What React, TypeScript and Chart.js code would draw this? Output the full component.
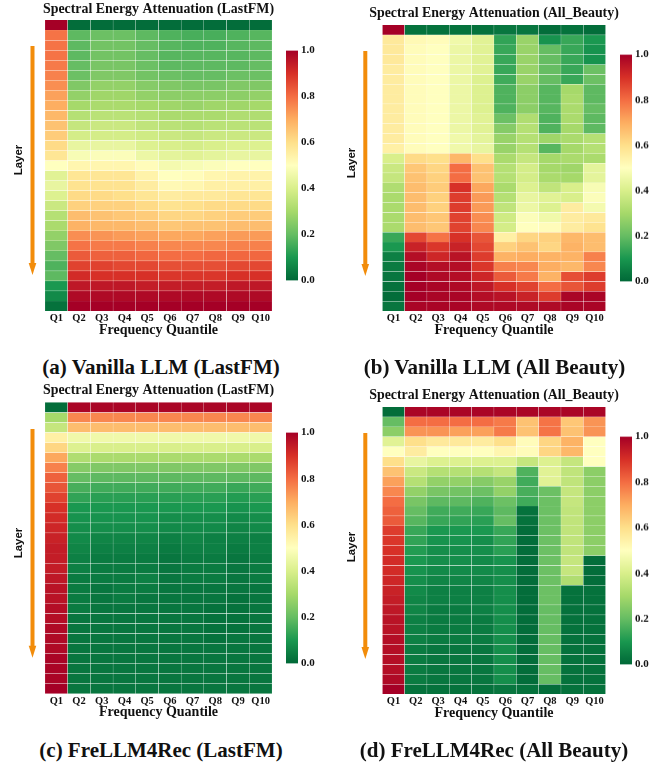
import React, { useEffect, useRef } from "react";
import { Chart, registerables } from "chart.js";

Chart.register(...registerables);

const quantiles = ["Q1", "Q2", "Q3", "Q4", "Q5", "Q6", "Q7", "Q8", "Q9", "Q10"];
const barTicks = [0, 0.2, 0.4, 0.6, 0.8, 1.0];
const rdYlGn = ["#006837", "#1a9850", "#66bd63", "#a6d96a", "#d9ef8b", "#ffffbf", "#fee08b", "#fdae61", "#f46d43", "#d73027", "#a50026"];

const vanillaLastFM = [
  [1, .01, .01, .01, .01, .01, .01, .01, .01, .01],
  [.79, .19, .21, .21, .19, .17, .16, .16, .17, .18],
  [.79, .19, .22, .22, .20, .18, .17, .17, .18, .19],
  [.79, .19, .22, .22, .20, .18, .18, .18, .18, .19],
  [.78, .20, .23, .23, .21, .19, .19, .19, .19, .20],
  [.77, .21, .24, .24, .22, .21, .20, .20, .21, .21],
  [.75, .24, .27, .27, .25, .24, .23, .23, .24, .24],
  [.72, .27, .29, .29, .27, .26, .26, .26, .26, .27],
  [.70, .30, .31, .31, .30, .29, .28, .29, .29, .30],
  [.68, .33, .34, .34, .33, .31, .31, .31, .32, .32],
  [.66, .36, .37, .37, .35, .34, .33, .34, .34, .34],
  [.64, .39, .39, .39, .38, .37, .36, .37, .37, .37],
  [.61, .44, .44, .44, .41, .40, .39, .40, .41, .41],
  [.58, .48, .49, .49, .45, .43, .42, .43, .44, .44],
  [.50, .53, .53, .53, .51, .47, .48, .49, .50, .50],
  [.42, .58, .58, .58, .54, .50, .51, .53, .54, .54],
  [.44, .59, .59, .59, .56, .52, .53, .55, .55, .55],
  [.41, .61, .61, .60, .58, .56, .57, .57, .58, .58],
  [.37, .63, .63, .63, .61, .59, .60, .61, .61, .61],
  [.33, .67, .66, .65, .64, .62, .62, .63, .64, .64],
  [.31, .69, .68, .68, .67, .65, .66, .66, .67, .67],
  [.27, .75, .74, .73, .72, .71, .71, .72, .73, .73],
  [.24, .79, .78, .78, .77, .76, .76, .76, .77, .77],
  [.20, .83, .82, .82, .81, .80, .80, .81, .81, .81],
  [.17, .87, .87, .86, .86, .85, .85, .85, .86, .86],
  [.19, .91, .90, .90, .90, .89, .89, .89, .90, .90],
  [.10, .95, .95, .95, .94, .94, .94, .94, .95, .95],
  [.07, .98, .98, .98, .98, .98, .98, .98, .98, .98],
  [.02, 1, 1, 1, 1, 1, 1, 1, 1, 1],
];

const vanillaBeauty = [
  [1, .02, .02, .02, .02, .03, .03, .01, .02, .01],
  [.57, .52, .51, .46, .42, .13, .28, .09, .14, .10],
  [.57, .51, .50, .45, .42, .14, .28, .20, .14, .09],
  [.57, .51, .50, .45, .42, .14, .28, .20, .14, .09],
  [.56, .51, .50, .45, .42, .14, .28, .20, .14, .21],
  [.56, .51, .50, .45, .41, .15, .28, .20, .14, .21],
  [.56, .51, .50, .45, .41, .17, .26, .18, .30, .19],
  [.56, .51, .50, .45, .41, .17, .26, .18, .31, .19],
  [.56, .51, .50, .45, .41, .17, .26, .18, .31, .20],
  [.56, .51, .50, .45, .42, .21, .32, .17, .31, .19],
  [.56, .51, .50, .45, .42, .25, .33, .17, .30, .19],
  [.56, .51, .50, .46, .43, .28, .33, .29, .31, .33],
  [.55, .51, .50, .46, .44, .28, .33, .18, .30, .33],
  [.40, .61, .60, .68, .60, .31, .36, .30, .31, .31],
  [.37, .65, .62, .80, .66, .33, .39, .30, .29, .43],
  [.36, .66, .63, .80, .66, .33, .39, .31, .30, .43],
  [.32, .67, .64, .90, .71, .31, .41, .35, .40, .48],
  [.31, .67, .63, .88, .73, .33, .44, .42, .40, .49],
  [.31, .67, .63, .88, .73, .35, .45, .41, .56, .47],
  [.31, .67, .65, .87, .75, .38, .49, .46, .56, .57],
  [.31, .67, .65, .87, .76, .39, .50, .51, .56, .59],
  [.14, .86, .79, .90, .84, .55, .62, .63, .68, .67],
  [.10, .93, .89, .93, .86, .63, .66, .62, .69, .67],
  [.05, .97, .92, .96, .88, .69, .70, .69, .69, .77],
  [.04, .99, .97, .97, .89, .77, .76, .70, .68, .76],
  [.03, 1, .98, .97, .92, .83, .78, .69, .85, .88],
  [.02, 1, .99, .98, .95, .90, .87, .80, .84, .88],
  [.01, 1, .99, .99, .97, .96, .93, .88, .99, .99],
  [.03, .99, .99, .99, .98, .98, .98, .98, .99, .99],
];

const freLastFM = [
  [.01, .99, .99, .99, .99, .99, .99, .99, .99, .99],
  [.30, .76, .76, .76, .76, .76, .76, .76, .76, .76],
  [.36, .67, .67, .67, .67, .67, .67, .67, .67, .67],
  [.55, .46, .46, .46, .46, .46, .46, .46, .46, .46],
  [.62, .41, .40, .40, .40, .40, .40, .40, .40, .40],
  [.71, .32, .31, .31, .31, .31, .31, .31, .31, .31],
  [.77, .25, .24, .24, .24, .24, .24, .24, .24, .24],
  [.82, .20, .19, .19, .19, .19, .19, .19, .19, .19],
  [.84, .16, .15, .15, .15, .15, .15, .15, .14, .15],
  [.87, .13, .12, .12, .12, .12, .12, .12, .11, .12],
  [.90, .10, .10, .10, .10, .10, .10, .10, .09, .10],
  [.91, .09, .09, .09, .09, .08, .08, .08, .07, .08],
  [.92, .08, .08, .08, .08, .07, .07, .07, .06, .07],
  [.93, .07, .06, .06, .06, .05, .06, .05, .05, .05],
  [.94, .06, .05, .05, .05, .04, .05, .05, .04, .05],
  [.94, .05, .04, .04, .04, .03, .04, .04, .03, .04],
  [.94, .05, .04, .04, .04, .03, .04, .04, .03, .04],
  [.95, .04, .04, .04, .05, .03, .04, .04, .03, .04],
  [.96, .04, .03, .04, .04, .03, .03, .03, .03, .03],
  [.96, .04, .03, .04, .03, .03, .03, .03, .02, .03],
  [.97, .04, .03, .03, .03, .03, .03, .02, .02, .03],
  [.97, .03, .03, .03, .03, .03, .03, .02, .02, .03],
  [.98, .03, .03, .03, .03, .03, .03, .02, .02, .03],
  [.98, .03, .03, .03, .03, .03, .03, .02, .03, .03],
  [.98, .03, .03, .03, .03, .03, .03, .03, .03, .03],
  [.99, .03, .03, .03, .03, .03, .03, .03, .03, .03],
  [.99, .03, .03, .03, .03, .03, .03, .03, .03, .03],
  [.99, .03, .03, .03, .03, .03, .03, .03, .03, .03],
  [1, .03, .03, .03, .03, .03, .03, .03, .03, .03],
];

const freBeauty = [
  [.01, .99, .99, .99, .99, .99, .99, .99, .99, .99],
  [.20, .80, .80, .80, .80, .78, .66, .79, .65, .74],
  [.26, .74, .74, .72, .72, .78, .66, .79, .66, .74],
  [.42, .60, .57, .57, .56, .60, .51, .62, .69, .50],
  [.50, .56, .50, .50, .50, .53, .51, .62, .68, .50],
  [.60, .44, .41, .41, .41, .41, .36, .41, .36, .50],
  [.66, .37, .33, .33, .33, .36, .17, .42, .35, .26],
  [.72, .33, .27, .27, .25, .28, .15, .42, .35, .26],
  [.76, .27, .23, .22, .21, .27, .16, .21, .36, .26],
  [.80, .23, .19, .19, .17, .21, .15, .21, .36, .26],
  [.82, .20, .15, .15, .14, .19, .02, .21, .35, .26],
  [.83, .18, .14, .13, .12, .20, .02, .21, .35, .26],
  [.88, .14, .10, .10, .10, .14, .01, .21, .35, .26],
  [.89, .13, .09, .09, .08, .13, .01, .21, .35, .26],
  [.90, .11, .08, .08, .08, .12, .01, .21, .35, .26],
  [.91, .10, .08, .08, .07, .09, .01, .21, .36, .01],
  [.91, .09, .07, .07, .07, .08, .01, .21, .36, .01],
  [.92, .08, .06, .06, .06, .08, .01, .21, .32, .01],
  [.93, .07, .05, .05, .05, .08, .01, .21, .02, .02],
  [.94, .06, .05, .05, .05, .08, .01, .21, .02, .02],
  [.95, .06, .04, .04, .05, .08, .01, .20, .02, .02],
  [.96, .05, .04, .04, .04, .08, .01, .20, .02, .02],
  [.96, .05, .04, .04, .04, .08, .01, .20, .02, .02],
  [.97, .05, .04, .04, .04, .08, .01, .20, .02, .02],
  [.97, .04, .03, .03, .03, .08, .01, .20, .02, .02],
  [.97, .04, .03, .03, .03, .08, .01, .20, .02, .02],
  [.97, .04, .03, .03, .03, .08, .01, .20, .02, .02],
  [.98, .04, .03, .03, .03, .08, .01, .20, .02, .02],
  [1, .02, .02, .02, .02, .03, .02, .01, .02, .02],
];

const heatFont = "'Liberation Serif', serif";
const ink = "#111111";
const orange = "#f28c0a";

function mapColor(v: number) {
  const t = Math.max(0, Math.min(1, v)) * 10;
  const i = Math.min(9, Math.floor(t));
  const f = t - i;
  const hex = (s: string, p: number) => parseInt(s.slice(p, p + 2), 16);
  const ch = (p: number) => Math.round(hex(rdYlGn[i], p) * (1 - f) + hex(rdYlGn[i + 1], p) * f);
  return `rgb(${ch(1)},${ch(3)},${ch(5)})`;
}

type PanelDef = {
  title: string; caption: string; values: number[][];
  top: number; plotLeft: number; plotRight: number; plotTop: number; plotBottom: number;
  titleY: number; arrowX: number; layerX: number; layerY: number; arrowTop: number; arrowBottom: number;
  barLeft: number; barTop: number; barBottom: number; captionY: number; captionX: number;
};

const panels: PanelDef[] = [
  { title: "Spectral Energy Attenuation (LastFM)", caption: "(a) Vanilla LLM (LastFM)", values: vanillaLastFM, top: 0,
    plotLeft: 45, plotRight: 272, plotTop: 20, plotBottom: 311, titleY: 9, arrowX: 32.5, layerX: 19, layerY: 160,
    arrowTop: 46, arrowBottom: 275, barLeft: 286, barTop: 48.7, barBottom: 281.7, captionX: 161, captionY: 367 },
  { title: "Spectral Energy Attenuation (All_Beauty)", caption: "(b) Vanilla LLM (All Beauty)", values: vanillaBeauty, top: 0,
    plotLeft: 382.3, plotRight: 605.7, plotTop: 25, plotBottom: 311, titleY: 13.5, arrowX: 365.3, layerX: 352, layerY: 163,
    arrowTop: 51, arrowBottom: 276, barLeft: 619.5, barTop: 53, barBottom: 282.7, captionX: 494.5, captionY: 367 },
  { title: "Spectral Energy Attenuation (LastFM)", caption: "(c) FreLLM4Rec (LastFM)", values: freLastFM, top: 380,
    plotLeft: 45, plotRight: 272, plotTop: 402.3, plotBottom: 693.7, titleY: 390.7, arrowX: 32.5, layerX: 19, layerY: 543,
    arrowTop: 429, arrowBottom: 657.7, barLeft: 286, barTop: 431, barBottom: 665, captionX: 161, captionY: 750 },
  { title: "Spectral Energy Attenuation (All_Beauty)", caption: "(d) FreLLM4Rec (All Beauty)", values: freBeauty, top: 380,
    plotLeft: 382.3, plotRight: 605.7, plotTop: 407, plotBottom: 694, titleY: 395.7, arrowX: 365.3, layerX: 352, layerY: 547,
    arrowTop: 433, arrowBottom: 659, barLeft: 619.5, barTop: 435, barBottom: 665.7, captionX: 494, captionY: 750 },
];

const CANVAS_H = 350;
const AXIS_H = 27.5;

function Heatmap({ p }: { p: PanelDef }) {
  const ref = useRef<HTMLCanvasElement | null>(null);
  const canvasLeft = p.plotLeft < 335 ? 0 : 335;
  const canvasW = Math.round(2 * ((p.plotLeft + p.plotRight) / 2 - canvasLeft));
  useEffect(() => {
    const titleSize = 13.9;
    const titleH = titleSize * 1.2;
    const plotTop = p.plotTop - p.top;
    const padTop = Math.max(0, p.titleY - p.top - titleH / 2);
    const decor = {
      id: "layerArrow",
      afterDraw(chart: Chart) {
        const c = chart.ctx;
        const x = p.arrowX - canvasLeft;
        const t = p.arrowTop - p.top;
        const b = p.arrowBottom - p.top;
        c.save();
        c.fillStyle = orange;
        c.fillRect(x - 2, t, 4, b - t - 10);
        c.beginPath();
        c.moveTo(x - 3.8, b - 12);
        c.lineTo(x + 3.8, b - 12);
        c.lineTo(x, b);
        c.closePath();
        c.fill();
        c.translate(p.layerX - canvasLeft, p.layerY - p.top);
        c.rotate(-Math.PI / 2);
        c.font = "bold 11.5px 'Liberation Sans', sans-serif";
        c.fillStyle = ink;
        c.textAlign = "center";
        c.textBaseline = "middle";
        c.fillText("Layer", 0, 0);
        c.restore();
      },
    };
    const chart = new Chart(ref.current as HTMLCanvasElement, {
      type: "bar",
      data: {
        labels: quantiles,
        datasets: p.values.map((row, r) => ({
          label: `Layer ${r}`,
          data: row.map((v, q) => ({ x: quantiles[q], y: [r, r + 1], v })) as any,
          backgroundColor: (ctx: any) => mapColor(ctx.raw ? ctx.raw.v : 0),
          borderColor: "#ffffff",
          borderWidth: 0.4,
          borderSkipped: false,
          barPercentage: 1,
          categoryPercentage: 1,
        })),
      },
      plugins: [decor],
      options: {
        responsive: false,
        animation: false,
        events: [],
        layout: { padding: { left: 0, top: 0, right: 0, bottom: CANVAS_H - (p.plotBottom - p.top) - AXIS_H } },
        plugins: {
          legend: { display: false },
          tooltip: { enabled: false },
          title: {
            display: true, text: p.title, color: ink,
            font: { family: heatFont, size: titleSize, weight: "bold", lineHeight: 1.2 },
            padding: { top: padTop, bottom: plotTop - padTop - titleH },
          },
        },
        scales: {
          x: {
            type: "category", stacked: true,
            grid: { display: false, drawTicks: false }, border: { display: false },
            ticks: { color: ink, padding: 1, maxRotation: 0, autoSkip: false, font: { family: heatFont, size: 10.5, weight: "bold" } },
            title: { display: true, text: "Frequency Quantile", color: ink, padding: 0, font: { family: heatFont, size: 14, weight: "bold", lineHeight: 1.2 } },
            afterFit: (s: any) => { s.height = AXIS_H; },
          },
          y: {
            type: "linear", reverse: true, min: 0, max: p.values.length,
            grid: { display: false }, border: { display: false }, ticks: { display: false },
            afterFit: (s: any) => { s.width = p.plotLeft - canvasLeft; },
          },
          spacer: {
            type: "linear", position: "right",
            grid: { display: false }, border: { display: false }, ticks: { display: false },
            afterFit: (s: any) => { s.width = canvasW - (p.plotRight - canvasLeft); },
          },
        },
      } as any,
    });
    return () => chart.destroy();
  }, [p]);
  return (
    <canvas ref={ref} width={canvasW} height={CANVAS_H}
      style={{ position: "absolute", left: canvasLeft, top: p.top, width: canvasW, height: CANVAS_H }} />
  );
}

function ColorBar({ p }: { p: PanelDef }) {
  const ref = useRef<HTMLCanvasElement | null>(null);
  const BW = 12;
  const W = 40;
  const pad = 8;
  useEffect(() => {
    const chart = new Chart(ref.current as HTMLCanvasElement, {
      type: "bar",
      data: {
        labels: ["scale"],
        datasets: [{
          data: [[0, 1]] as any,
          barPercentage: 1, categoryPercentage: 1,
          backgroundColor: (ctx: any) => {
            const area = ctx.chart.chartArea;
            if (!area) return rdYlGn[5];
            const g = ctx.chart.ctx.createLinearGradient(0, area.bottom, 0, area.top);
            rdYlGn.forEach((c, i) => g.addColorStop(i / 10, c));
            return g;
          },
        }],
      },
      options: {
        responsive: false, animation: false, events: [],
        layout: { padding: { left: 0, right: 0, top: pad, bottom: pad } },
        plugins: { legend: { display: false }, tooltip: { enabled: false } },
        scales: {
          x: { display: false },
          y: {
            position: "right", min: 0, max: 1,
            grid: { display: false, drawTicks: false }, border: { display: false },
            afterBuildTicks: (s: any) => { s.ticks = barTicks.map((value) => ({ value })); },
            ticks: { color: ink, padding: 3, callback: (v: any) => Number(v).toFixed(1), font: { family: heatFont, size: 11, weight: "bold" } },
            afterFit: (s: any) => { s.width = W - BW; },
          },
        },
      } as any,
    });
    return () => chart.destroy();
  }, [p]);
  const h = p.barBottom - p.barTop + pad * 2;
  return (
    <canvas ref={ref} width={W} height={h}
      style={{ position: "absolute", left: p.barLeft, top: p.barTop - pad, width: W, height: h }} />
  );
}

export default function App() {
  return (
    <div style={{ position: "absolute", left: 0, top: 0, width: 670, height: 763, background: "#fff", overflow: "hidden" }}>
      {panels.map((p) => (
        <React.Fragment key={p.caption}>
          <Heatmap p={p} />
          <ColorBar p={p} />
          <div style={{
            position: "absolute", left: p.captionX - 167, width: 334, top: p.captionY - 12, height: 24, lineHeight: "24px",
            textAlign: "center", fontFamily: heatFont, fontWeight: 700, fontSize: 21, color: ink, whiteSpace: "nowrap",
          }}>{p.caption}</div>
        </React.Fragment>
      ))}
    </div>
  );
}
